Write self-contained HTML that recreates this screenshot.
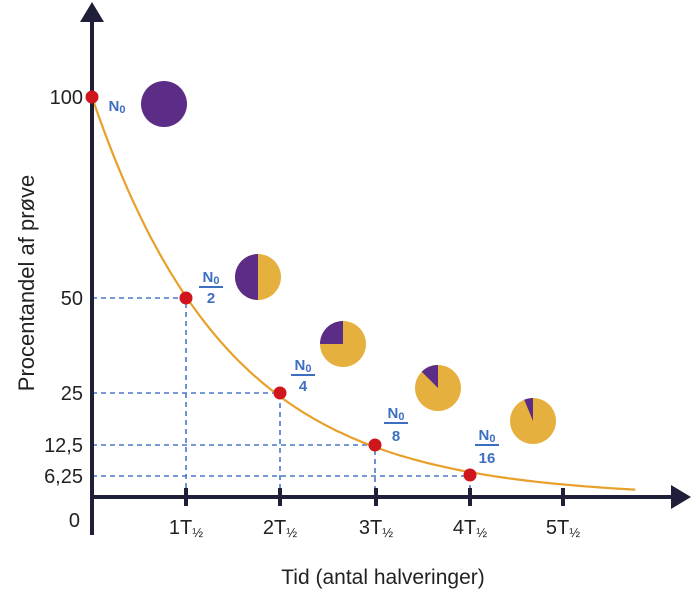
<!DOCTYPE html>
<html><head><meta charset="utf-8"><style>
html,body{margin:0;padding:0;background:#fff;}
svg{display:block;font-family:"Liberation Sans",sans-serif;}
</style></head><body>
<svg width="692" height="600" viewBox="0 0 692 600">
<g stroke="#4a78c8" stroke-width="1.6" stroke-dasharray="5,4" fill="none">
<path d="M92 298H186V497"/><path d="M92 393H280V497"/><path d="M92 445H375V497"/><path d="M92 476H470V497"/>
</g>
<path id="c" fill="none" stroke="#e8a02a" stroke-width="2.2" d=""/>
<g stroke="#1f1f3a" stroke-width="4">
<line x1="92" y1="18" x2="92" y2="535"/><line x1="92" y1="497" x2="676" y2="497"/>
<line x1="186" y1="488" x2="186" y2="506"/><line x1="280" y1="488" x2="280" y2="506"/><line x1="376" y1="488" x2="376" y2="506"/><line x1="470" y1="488" x2="470" y2="506"/><line x1="563" y1="488" x2="563" y2="506"/>
</g>
<polygon points="92,2 80,22 104,22" fill="#1f1f3a"/>
<polygon points="691,497 671,485 671,509" fill="#1f1f3a"/>
<g fill="#d0161d"><circle cx="92" cy="97" r="6.5"/><circle cx="186" cy="298" r="6.5"/><circle cx="280" cy="393" r="6.5"/><circle cx="375" cy="445" r="6.5"/><circle cx="470" cy="475" r="6.5"/></g>
<circle cx="164" cy="104" r="23" fill="#5b2d86"/>
<circle cx="258" cy="277" r="23" fill="#e6b03e"/><path d="M258 254A23 23 0 0 0 258 300Z" fill="#5b2d86"/>
<circle cx="343" cy="344" r="23" fill="#e6b03e"/><path d="M343 344V321A23 23 0 0 0 320 344Z" fill="#5b2d86"/>
<circle cx="438" cy="388" r="23" fill="#e6b03e"/><path d="M438 388V365A23 23 0 0 0 421.7 371.7Z" fill="#5b2d86"/>
<circle cx="533" cy="421" r="23" fill="#e6b03e"/><path d="M533 421V398A23 23 0 0 0 524.2 399.8Z" fill="#5b2d86"/>
<g fill="#3d6fc0" font-weight="bold" font-size="15" text-anchor="middle">
<text x="117" y="111">N<tspan font-size="11" dy="2">0</tspan></text>
<text x="211" y="282">N<tspan font-size="11" dy="2">0</tspan></text><line x1="199" y1="287" x2="223" y2="287" stroke="#3d6fc0" stroke-width="2"/><text x="211" y="303">2</text>
<text x="303" y="370">N<tspan font-size="11" dy="2">0</tspan></text><line x1="291" y1="375" x2="315" y2="375" stroke="#3d6fc0" stroke-width="2"/><text x="303" y="391">4</text>
<text x="396" y="418">N<tspan font-size="11" dy="2">0</tspan></text><line x1="384" y1="423" x2="408" y2="423" stroke="#3d6fc0" stroke-width="2"/><text x="396" y="441">8</text>
<text x="487" y="440">N<tspan font-size="11" dy="2">0</tspan></text><line x1="475" y1="445" x2="499" y2="445" stroke="#3d6fc0" stroke-width="2"/><text x="487" y="463">16</text>
</g>
<g font-size="20" fill="#222" text-anchor="end">
<text x="83" y="104">100</text><text x="83" y="305">50</text><text x="83" y="400">25</text><text x="83" y="452">12,5</text><text x="83" y="483">6,25</text><text x="80" y="527">0</text>
</g>
<g font-size="20" fill="#222" text-anchor="middle">
<text x="186" y="534">1T<tspan font-size="13" dy="3">½</tspan></text>
<text x="280" y="534">2T<tspan font-size="13" dy="3">½</tspan></text>
<text x="376" y="534">3T<tspan font-size="13" dy="3">½</tspan></text>
<text x="470" y="534">4T<tspan font-size="13" dy="3">½</tspan></text>
<text x="563" y="534">5T<tspan font-size="13" dy="3">½</tspan></text>
<text x="383" y="584" font-size="21">Tid (antal halveringer)</text>
<text transform="translate(34,283) rotate(-90)" font-size="22">Procentandel af prøve</text>
</g>
<script>
var d="";for(var i=0;i<=120;i++){var t=i/120*5.76;var x=92+94.3*t,y=497-400*Math.pow(2,-t);d+=(i?"L":"M")+x.toFixed(1)+" "+y.toFixed(1);}
document.getElementById("c").setAttribute("d",d);
</script>
</svg>
</body></html>
